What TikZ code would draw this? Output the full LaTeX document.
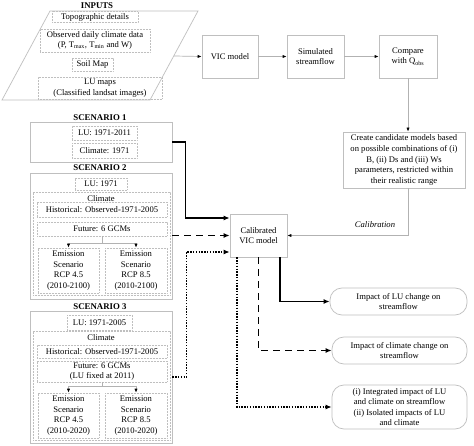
\documentclass[tikz,border=0pt]{standalone}
\usepackage{fontspec}
\setmainfont{Liberation Serif}
\usetikzlibrary{arrows.meta}
\begin{document}
\begin{tikzpicture}[x=1pt,y=-1pt,
  base/.style={font=\fontsize{8.6}{10.6}\selectfont, align=center, inner sep=0pt},
  titletext/.style={font=\fontsize{8.8}{10}\selectfont\bfseries, inner sep=0pt},
  solidbox/.style={base, draw=gray!50, line width=0.7pt},
  dotbox/.style={base, draw=gray!50, line width=0.6pt, dash pattern=on 0.6pt off 0.9pt},
  outbox/.style={base, draw=gray!50, line width=0.7pt, rounded corners=12pt},
  garrow/.style={draw=gray!60, line width=0.7pt, -{Latex[length=4pt,width=3.2pt,color=black]}},
  sarrow/.style={draw=black, line width=1.4pt, -{Latex[length=6pt,width=5pt]}},
  darrow/.style={draw=black, line width=1.4pt, dash pattern=on 7pt off 5pt, -{Latex[length=6pt,width=5pt]}},
  dtarrow/.style={draw=black, line width=1.4pt, dash pattern=on 1.4pt off 1.4pt, -{Latex[length=6pt,width=5pt]}}
]
\useasboundingbox (0,0) rectangle (474,446);
\fill[white] (0,0) rectangle (474,446);

% INPUTS
\node[titletext] (intitle) at (97,6) {INPUTS};
\draw[draw=gray!50, line width=0.7pt] (50,11) -- (198,11) -- (150,100) -- (2,100) -- cycle;
\coordinate (inR) at (174,56);
\node[dotbox, minimum width=86, minimum height=11] (topo) at (95,17) {Topographic details};
\node[dotbox, minimum width=110, minimum height=23] (obs) at (95,40.5) {Observed daily climate data\\(P, T\textsubscript{max}, T\textsubscript{min} and W)};
\node[dotbox, minimum width=41, minimum height=13] (soil) at (92.5,64.5) {Soil Map};
\node[dotbox, minimum width=124, minimum height=22] (lumaps) at (100,88) {LU maps\\(Classified landsat images)};

% top chain
\node[solidbox, minimum width=56, minimum height=43] (vic) at (230,56.5) {VIC model};
\node[solidbox, minimum width=57, minimum height=43] (sim) at (315.5,56.5) {Simulated\\streamflow};
\node[solidbox, minimum width=58, minimum height=43] (cmp) at (408,56.5) {Compare\\with Q\textsubscript{obs}};
\node[solidbox, minimum width=122, minimum height=56] (create) at (404,160) {Create candidate models based\\on possible combinations of (i)\\B, (ii) Ds and (iii) Ws\\parameters, restricted within\\their realistic range};
\node[solidbox, minimum width=57, minimum height=43] (cal) at (258.5,235.5) {Calibrated\\VIC model};
\node[base, font=\fontsize{8.6}{10.6}\selectfont\itshape] (calib) at (375,225) {Calibration};

% SCENARIO 1
\node[titletext] (t1) at (100,118) {SCENARIO 1};
\node[solidbox, minimum width=142, minimum height=40] (s1) at (101,142) {};
\node[dotbox, minimum width=65, minimum height=14] (lu1) at (104.5,133) {LU: 1971-2011};
\node[dotbox, minimum width=65, minimum height=15] (cl1) at (104.5,150.5) {Climate: 1971};

% SCENARIO 2
\node[titletext] (t2) at (100,168) {SCENARIO 2};
\node[solidbox, minimum width=142, minimum height=126] (s2) at (101,236) {};
\node[dotbox, minimum width=52, minimum height=12] (lu2) at (101,184) {LU: 1971};
\node[dotbox, minimum width=137, minimum height=103] (c2) at (101.5,243.5) {};
\node[base] (clab2) at (101,199) {Climate};
\node[dotbox, minimum width=130, minimum height=15] (hist2) at (102,209.5) {Historical: Observed-1971-2005};
\node[dotbox, minimum width=130, minimum height=14] (fut2) at (102,229) {Future: 6 GCMs};
\node[dotbox, minimum width=61, minimum height=45] (e45a) at (68.5,270.5) {Emission\\Scenario\\RCP 4.5\\(2010-2100)};
\node[dotbox, minimum width=62, minimum height=45] (e85a) at (136,270.5) {Emission\\Scenario\\RCP 8.5\\(2010-2100)};

% SCENARIO 3
\node[titletext] (t3) at (100,307) {SCENARIO 3};
\node[solidbox, minimum width=142, minimum height=132] (s3) at (101,377) {};
\node[dotbox, minimum width=65, minimum height=15] (lu3) at (99.5,322.5) {LU: 1971-2005};
\node[dotbox, minimum width=137, minimum height=109] (c3) at (101.5,385.5) {};
\node[base] (clab3) at (101,338) {Climate};
\node[dotbox, minimum width=130, minimum height=13] (hist3) at (102,351.5) {Historical: Observed-1971-2005};
\node[dotbox, minimum width=130, minimum height=21] (fut3) at (102,371.5) {Future: 6 GCMs\\(LU fixed at 2011)};
\node[dotbox, minimum width=61, minimum height=45] (e45b) at (68.5,415.5) {Emission\\Scenario\\RCP 4.5\\(2010-2020)};
\node[dotbox, minimum width=62, minimum height=45] (e85b) at (136,415.5) {Emission\\Scenario\\RCP 8.5\\(2010-2020)};

% outputs
\node[outbox, minimum width=137, minimum height=27] (o1) at (398.5,301.5) {Impact of LU change on\\streamflow};
\node[outbox, minimum width=135, minimum height=27] (o2) at (399.5,350.5) {Impact of climate change on\\streamflow};
\node[outbox, minimum width=135, minimum height=44] (o3) at (399.5,407) {(i) Integrated impact of LU\\and climate on streamflow\\(ii) Isolated impacts of LU\\and climate};

% gray connectors
\draw[garrow] (inR) -- (vic.west);
\draw[garrow] (vic) -- (sim);
\draw[garrow] (sim) -- (cmp);
\draw[garrow] (cmp.south) -- (cmp.south |- create.north);
\draw[garrow] (cmp.south |- create.south) |- (cal.east);
\draw[garrow] (fut2.south) -- ++(0,7) -| (e45a.north);
\draw[garrow] (fut2.south) ++(0,7) -| (e85a.north);
\draw[garrow] (fut3.south) -- ++(0,4.5) -| (e45b.north);
\draw[garrow] (fut3.south) ++(0,4.5) -| (e85b.north);

% scenario connectors
\draw[sarrow] (s1.east) -- ++(13,0) |- ([yshift=17.5pt]cal.west);
\draw[darrow] (s2.east |- cal.west) -- (cal.west);
\draw[dtarrow] (s3.east |- 0,377) -- ++(14,0) |- ([yshift=-16.5pt]cal.west);

% output connectors
\draw[sarrow] ([xshift=21.5pt]cal.south) |- (o1.west);
\draw[darrow] (cal.south) |- (o2.west);
\draw[dtarrow] ([xshift=-21.5pt]cal.south) |- (o3.west);
\end{tikzpicture}
\end{document}
